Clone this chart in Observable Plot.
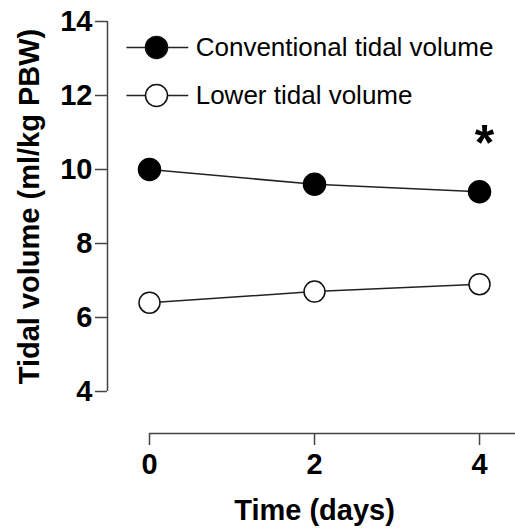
<!DOCTYPE html>
<html>
<head>
<meta charset="utf-8">
<script src="https://cdn.jsdelivr.net/npm/d3@7"></script>
<script src="https://cdn.jsdelivr.net/npm/@observablehq/plot@0.6"></script>
<style>
  html, body { margin: 0; padding: 0; background: #fff; }
  #chart svg { display: block; }
</style>
</head>
<body>
<div id="chart"></div>
<script>
// ---- data ----
const days = [0, 2, 4];
const conventional = [10.0, 9.6, 9.4];
const lower = [6.4, 6.7, 6.9];
const seriesNames = ["Conventional tidal volume", "Lower tidal volume"];
const yTicks = [4, 6, 8, 10, 12, 14];
const xTicks = [0, 2, 4];
const xTitle = "Time (days)";
const yTitle = "Tidal volume (ml/kg PBW)";
const significance = [{day: 4, value: 10.68, label: "*"}];

// ---- layout ----
const W = 515, H = 529;
const xDomain = [-0.509, 4.436];
const yDomain = [2.865, 14];
const legendX = [-0.28, 0.47], legendMarkX = 0.085, legendTextX = 0.56;
const legendY = [13.3, 12.0];
const yTitlePos = {x: -1.45, y: 9.0};
const font = "Liberation Sans, Arial, Helvetica, sans-serif";

const convData = days.map((d, i) => ({day: d, value: conventional[i]}));
const lowData = days.map((d, i) => ({day: d, value: lower[i]}));
const legend = seriesNames.map((name, i) => ({name, y: legendY[i], filled: i === 0}));

const plot = Plot.plot({
  width: W,
  height: H,
  marginLeft: 107,
  marginRight: 0,
  marginTop: 21,
  marginBottom: 96,
  style: {fontFamily: font, background: "#fff", color: "#000"},
  x: {domain: xDomain},
  y: {domain: yDomain},
  marks: [
    // axis lines
    Plot.ruleX([xDomain[0]], {y1: yTicks[0], y2: yTicks[yTicks.length - 1], stroke: "#444", strokeWidth: 1.5}),
    Plot.ruleY([yDomain[0]], {x1: xTicks[0], x2: xDomain[1], stroke: "#444", strokeWidth: 1.5}),
    Plot.axisY({ticks: yTicks, tickFormat: "d", tickSize: 12, tickPadding: 3, fontSize: 29, fontWeight: "bold", label: null, stroke: "#444", strokeWidth: 1.5, fill: "#000"}),
    Plot.axisX({ticks: xTicks, tickFormat: "d", tickSize: 12, tickPadding: 8, fontSize: 29, fontWeight: "bold", label: null, stroke: "#444", strokeWidth: 1.5, fill: "#000"}),
    Plot.text([xTitle], {frameAnchor: "bottom", dx: 3, dy: 86, text: d => d, fontSize: 29, fontWeight: "bold", fill: "#000"}),
    Plot.text([yTitle], {x: yTitlePos.x, y: yTitlePos.y, rotate: -90, text: d => d, fontSize: 29, fontWeight: "bold", fill: "#000"}),
    // series
    Plot.line(convData, {x: "day", y: "value", stroke: "#222", strokeWidth: 1.5}),
    Plot.line(lowData, {x: "day", y: "value", stroke: "#222", strokeWidth: 1.5}),
    Plot.dot(convData, {x: "day", y: "value", r: 11, fill: "#000", stroke: "#000"}),
    Plot.dot(lowData, {x: "day", y: "value", r: 10.5, fill: "#fff", stroke: "#111", strokeWidth: 1.5}),
    // significance marker
    Plot.text(significance, {x: "day", y: "value", text: "label", dx: 5, fontSize: 50, fontWeight: "bold", fill: "#000"}),
    // legend
    Plot.link(legend, {x1: legendX[0], x2: legendX[1], y1: "y", y2: "y", stroke: "#222", strokeWidth: 1.5}),
    Plot.dot(legend, {x: legendMarkX, y: "y", r: 11, fill: d => d.filled ? "#000" : "#fff", stroke: "#111", strokeWidth: 1.5}),
    Plot.text(legend, {x: legendTextX, y: "y", text: "name", textAnchor: "start", fontSize: 26, fill: "#000"})
  ]
});
document.getElementById("chart").appendChild(plot);
</script>
</body>
</html>
